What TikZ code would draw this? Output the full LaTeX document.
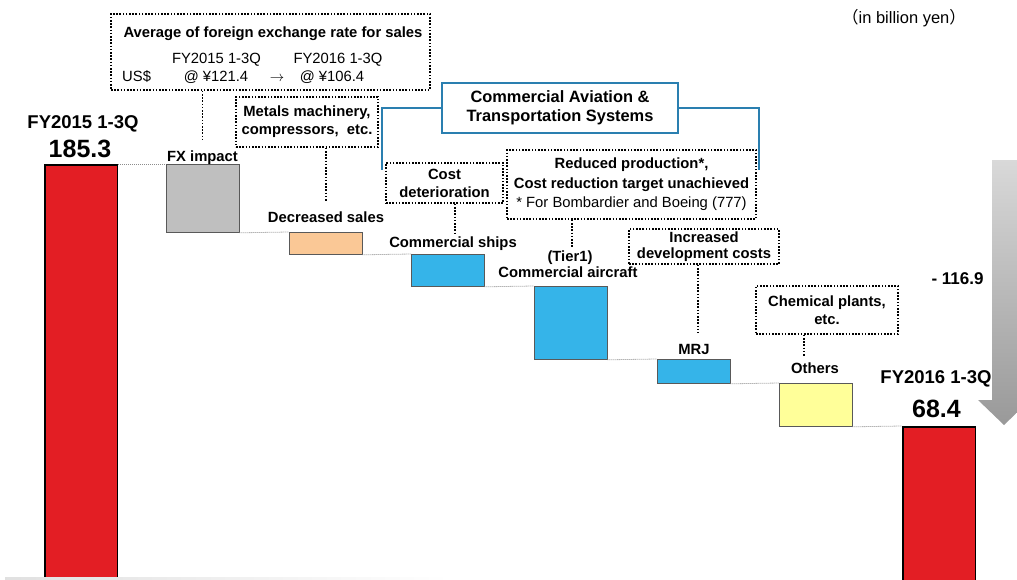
\documentclass[tikz,border=0pt]{standalone}
\usepackage{fontspec}
\setmainfont{Liberation Sans}
\newfontfamily\cjk{Noto Sans CJK JP}
\usetikzlibrary{positioning}

\definecolor{barred}{HTML}{E31E24}
\definecolor{fxgray}{HTML}{BFBFBF}
\definecolor{salespeach}{HTML}{FAC896}
\definecolor{casblue}{HTML}{35B4E9}
\definecolor{othyellow}{HTML}{FFFF99}
\definecolor{catblue}{HTML}{2A7FB0}

\tikzset{
  bar/.style={draw=black!65, line width=0.8pt, inner sep=0pt, minimum width=72.5pt, anchor=north west},
  totbar/.style={bar, draw=black, line width=1.6pt, fill=barred, minimum height=440pt},
  lbl/.style={font=\bfseries\fontsize{14.8}{17}\selectfont, inner sep=0pt, anchor=base},
  rate/.style={font=\fontsize{14.8}{17}\selectfont, inner sep=0pt, anchor=base},
  note/.style={draw, line width=1.6pt, dash pattern=on 1.6pt off 1.6pt, inner sep=0pt, align=center, font=\bfseries\fontsize{14.8}{18}\selectfont},
  leader/.style={line width=1.6pt, dash pattern=on 1.6pt off 1.6pt},
  link/.style={black!45, line width=0.8pt, dash pattern=on 1pt off 1pt},
  bracket/.style={catblue, line width=2.4pt}
}

\begin{document}
\begin{tikzpicture}[x=1pt, y=-1pt]
  \useasboundingbox (0,0) rectangle (1017,579);

  % big drop arrow
  \shade[top color=black!15, bottom color=black!40] (992,160) -- (1020,160) -- (1020,400) -- (1030,400) -- (1004,425) -- (978,400) -- (992,400) -- cycle;
  \node[lbl, font=\bfseries\fontsize{17}{20}\selectfont] (drop) at (957.5,284) {- 116.9};

  % bars
  \node[totbar] (fy15) at (44,164) {};
  \node[bar, fill=fxgray, minimum height=68pt] (fx) at (166,164) {};
  \node[bar, fill=salespeach, minimum height=22pt] (sales) at (289,232) {};
  \node[bar, fill=casblue, minimum height=32pt] (ships) at (411,254) {};
  \node[bar, fill=casblue, minimum height=73pt] (air) at (534,286) {};
  \node[bar, fill=casblue, minimum height=24pt] (mrj) at (657,359) {};
  \node[bar, fill=othyellow, minimum height=43pt] (oth) at (779,383) {};
  \node[totbar] (fy16) at (902,426) {};

  \draw[link] (fy15.north east) -- (fx.north west);
  \draw[link] (fx.south east) -- (sales.north west);
  \draw[link] (sales.south east) -- (ships.north west);
  \draw[link] (ships.south east) -- (air.north west);
  \draw[link] (air.south east) -- (mrj.north west);
  \draw[link] (mrj.south east) -- (oth.north west);
  \draw[link] (oth.south east) -- (fy16.north west);

  % bar labels
  \node[lbl, font=\bfseries\fontsize{18.5}{21}\selectfont] (fy15l) at (83,128) {FY2015 1-3Q};
  \node[lbl, font=\bfseries\fontsize{25}{28}\selectfont] (fy15v) at (80,157) {185.3};
  \node[lbl] (fxl) at (202.5,161) {FX impact};
  \node[lbl] (salesl) at (326,222) {Decreased sales};
  \node[lbl] (shipsl) at (453,247) {Commercial ships};
  \node[lbl] (tierl) at (570,261) {(Tier1)};
  \node[lbl] (airl) at (568,277) {Commercial aircraft};
  \node[lbl] (mrjl) at (694,354) {MRJ};
  \node[lbl] (othl) at (815,373) {Others};
  \node[lbl, font=\bfseries\fontsize{18.5}{21}\selectfont] (fy16l) at (936,383) {FY2016 1-3Q};
  \node[lbl, font=\bfseries\fontsize{25}{28}\selectfont] (fy16v) at (936.5,417) {68.4};

  \node[rate, font=\fontsize{16.5}{19}\selectfont] (unit) at (904,23) {{\cjk （}in billion yen{\cjk ）}};

  % exchange rate box
  \node[note, minimum width=319pt, minimum height=76pt] (fxbox) at (270.5,52) {};
  \node[lbl] (fxtitle) at (273,37) {Average of foreign exchange rate for sales};
  \node[rate] (from) at (216.5,63) {FY2015 1-3Q};
  \node[rate] (to) at (338,63) {FY2016 1-3Q};
  \node[rate, anchor=base west] (usd) at (122,81) {US\$};
  \node[rate] (rfrom) at (216,81) {@ ¥121.4};
  \node[rate] (arr) at (277,81) {$\rightarrow$};
  \node[rate] (rto) at (332,81) {@ ¥106.4};

  % notes
  \node[note, minimum width=142pt, minimum height=50pt] (metbox) at (307,122) {Metals machinery,\\compressors,\ \ etc.};
  \node[note, minimum width=117pt, minimum height=40pt] (costbox) at (444.5,183) {Cost\\deterioration};
  \node[note, minimum width=249pt, minimum height=69pt, font=\bfseries\fontsize{14.8}{19.5}\selectfont] (redbox) at (631.5,184.5) {Reduced production*,\\Cost reduction target unachieved\\{\mdseries * For Bombardier and Boeing (777)}};
  \node[note, minimum width=150pt, minimum height=35pt, font=\bfseries\fontsize{14.8}{16}\selectfont] (devbox) at (704,246.5) {Increased\\development costs};
  \node[note, minimum width=142pt, minimum height=48pt] (chembox) at (827,310) {Chemical plants,\\etc.};

  \draw[leader] (fxbox.south -| fxl.north) -- ([yshift=11pt]fxl.north);
  \draw[leader] (metbox.south -| salesl.north) -- ([yshift=9pt]salesl.north);
  \draw[leader] ([xshift=2pt]shipsl.north |- costbox.south) -- ([xshift=2pt, yshift=2pt]shipsl.north);
  \draw[leader] ([xshift=2pt]tierl.north |- redbox.south) -- ([xshift=2pt, yshift=3pt]tierl.north);
  \draw[leader] ([xshift=4pt]mrjl.north |- devbox.south) -- ([xshift=4pt, yshift=11pt]mrjl.north);
  \draw[leader] ([xshift=-11pt]othl.north |- chembox.south) -- ([xshift=-11pt, yshift=5pt]othl.north);

  % segment bracket
  \node[draw=catblue, line width=2.4pt, minimum width=236pt, minimum height=50pt, inner sep=0pt, align=center, font=\bfseries\fontsize{16.4}{19}\selectfont] (cats) at (560,108) {Commercial Aviation \&\\Transportation Systems};
  \coordinate (brl) at (382,170);
  \coordinate (brr) at (759,170);
  \draw[bracket] (cats.west) -| (brl);
  \draw[bracket] (cats.east) -| (brr);

  \shade[left color=black!12, right color=white] (5,577.5) rectangle (450,579);
\end{tikzpicture}
\end{document}
